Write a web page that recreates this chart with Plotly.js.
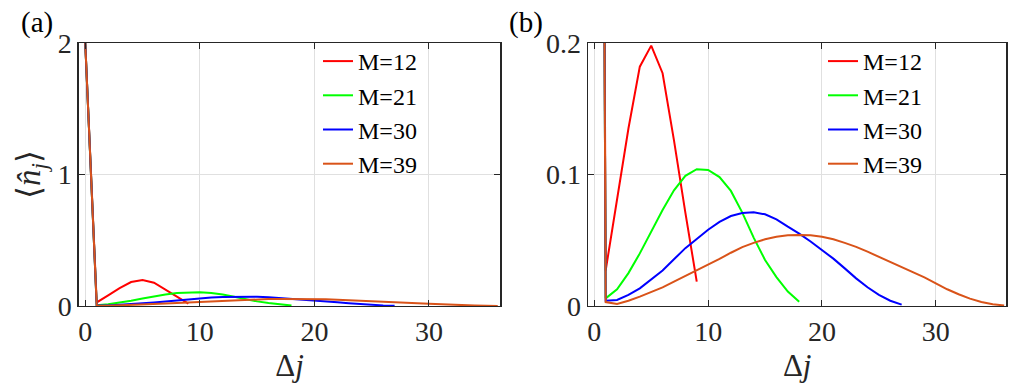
<!DOCTYPE html>
<html>
<head>
<meta charset="utf-8">
<script src="https://cdn.plot.ly/plotly-3.0.1.min.js"></script>
<style>
  html, body { margin: 0; padding: 0; background: #fff; }
  #plot { width: 1028px; height: 386px; }
</style>
</head>
<body>
<div id="plot"></div>
<script>
// series labels and colours (MATLAB style)
let names = ['M=12', 'M=21', 'M=30', 'M=39'];
let colors = ['#ff0000', '#00ff00', '#0000ff', '#d95319'];

// Delta j for each chain length
let dj12 = [0, 1, 2, 3, 4, 5, 6, 7, 8, 9];
let dj21 = [0, 1, 2, 3, 4, 5, 6, 7, 8, 9, 10, 11, 12, 13, 14, 15, 16, 17, 18];
let dj30 = [0, 1, 2, 3, 4, 5, 6, 7, 8, 9, 10, 11, 12, 13, 14, 15, 16, 17, 18, 19,
            20, 21, 22, 23, 24, 25, 26, 27];
let dj39 = [0, 1, 2, 3, 4, 5, 6, 7, 8, 9, 10, 11, 12, 13, 14, 15, 16, 17, 18, 19,
            20, 21, 22, 23, 24, 25, 26, 27, 28, 29, 30, 31, 32, 33, 34, 35, 36];

// <n_j>
let n12 = [2, 0.027, 0.081, 0.135, 0.182, 0.198, 0.177, 0.126, 0.071, 0.0185];
let n21 = [2, 0.0058, 0.0127, 0.025, 0.040, 0.0565, 0.073, 0.088, 0.099, 0.104,
           0.1035, 0.098, 0.0875, 0.071, 0.052, 0.035, 0.022, 0.011, 0.0033];
let n30 = [2, 0.004, 0.0046, 0.0084, 0.0134, 0.020, 0.027, 0.0355, 0.044, 0.051,
           0.058, 0.064, 0.0684, 0.0707, 0.0712, 0.0697, 0.0659, 0.0603, 0.055, 0.049,
           0.0428, 0.036, 0.0286, 0.021, 0.0142, 0.0084, 0.004, 0.001];
let n39 = [2, 0.003, 0.0015, 0.004, 0.0071, 0.0104, 0.0142, 0.0185, 0.0228, 0.027,
           0.031, 0.0358, 0.0405, 0.0448, 0.048, 0.0507, 0.0527, 0.0537, 0.054, 0.0537,
           0.0527, 0.0507, 0.048, 0.045, 0.0413, 0.0375, 0.0332, 0.0294, 0.026, 0.0217,
           0.0172, 0.0127, 0.0089, 0.0056, 0.003, 0.0013, 0.0004];

let xs = [dj12, dj21, dj30, dj39];
let ys = [n12, n21, n30, n39];

let serif = '"Liberation Serif", "Times New Roman", serif';
let ink = '#262626';

let data = [];
// panel (a) and panel (b) show the same curves
[['x', 'y', 'legend'], ['x2', 'y2', 'legend2']].forEach(function (ax) {
  for (let i = 0; i < 4; i++) {
    data.push({
      x: xs[i], y: ys[i], name: names[i],
      type: 'scatter', mode: 'lines',
      line: {color: colors[i], width: 2},
      xaxis: ax[0], yaxis: ax[1], legend: ax[2]
    });
  }
});

function makeX(dom, anchor) {
  return {
    domain: dom, anchor: anchor, range: [-0.55, 36.2],
    tickmode: 'array', tickvals: [0, 10, 20, 30], ticktext: ['0', '10', '20', '30'],
    ticks: 'inside', ticklen: 6, tickcolor: ink,
    showline: true, linecolor: ink, linewidth: 1.5, mirror: 'ticks',
    showgrid: true, gridcolor: '#e0e0e0', gridwidth: 1, zeroline: false,
    tickfont: {family: serif, size: 28, color: ink},
    title: {text: '\u0394<i>j</i>', font: {family: serif, size: 31, color: ink}, standoff: 8}
  };
}
function makeY(dom, anchor, rng, vals, labs) {
  return {
    domain: dom, anchor: anchor, range: rng,
    tickmode: 'array', tickvals: vals, ticktext: labs,
    ticks: 'inside', ticklen: 6, tickcolor: ink,
    showline: true, linecolor: ink, linewidth: 1.5, mirror: 'ticks',
    showgrid: true, gridcolor: '#e0e0e0', gridwidth: 1, zeroline: false,
    tickfont: {family: serif, size: 28, color: ink}
  };
}

let yA = makeY([0.2073, 0.8886], 'x', [0, 2], [0, 1, 2], ['0', '1', '2']);
yA.title = {text: '\u27e8<i>n\u0302</i><sub><i>j</i></sub>\u27e9',
            font: {family: serif, size: 33, color: ink}, standoff: 7};
let yB = makeY([0.2073, 0.8886], 'x2', [0, 0.2], [0, 0.1, 0.2], ['0', '0.1', '0.2']);

function makeLegend(left) {
  return {
    x: left / 1028, y: (386 - 39) / 386, xanchor: 'left', yanchor: 'top',
    font: {family: serif, size: 24, color: 'black'},
    bgcolor: 'rgba(0,0,0,0)', borderwidth: 0, itemwidth: 30, tracegroupgap: 0
  };
}

let layout = {
  width: 1028, height: 386,
  margin: {l: 0, r: 0, t: 0, b: 0},
  font: {family: serif, size: 28, color: ink},
  paper_bgcolor: '#ffffff', plot_bgcolor: '#ffffff',
  showlegend: true,
  xaxis: makeX([0.0768, 0.4864], 'y'),
  yaxis: yA,
  xaxis2: makeX([0.572, 0.979], 'y2'),
  yaxis2: yB,
  legend: makeLegend(318),
  legend2: makeLegend(823),
  annotations: [
    {text: '(a)', xref: 'paper', yref: 'paper', x: 19 / 1028, y: (386 - 23) / 386,
     xanchor: 'left', yanchor: 'middle', showarrow: false,
     font: {family: serif, size: 29, color: 'black'}},
    {text: '(b)', xref: 'paper', yref: 'paper', x: 507 / 1028, y: (386 - 23) / 386,
     xanchor: 'left', yanchor: 'middle', showarrow: false,
     font: {family: serif, size: 29, color: 'black'}}
  ]
};

Plotly.newPlot('plot', data, layout, {displayModeBar: false, staticPlot: true});
</script>
</body>
</html>
